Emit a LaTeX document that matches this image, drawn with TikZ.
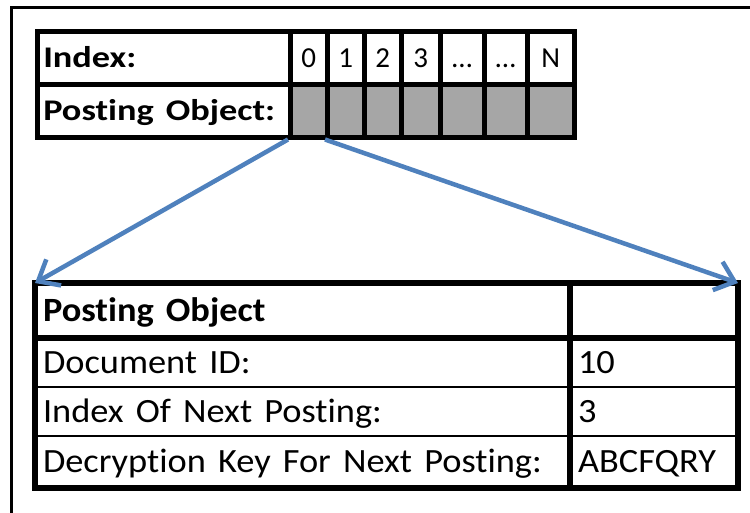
\documentclass[tikz,border=0pt]{standalone}
\usepackage{fontspec}
\setmainfont{Carlito}[Ligatures=NoCommon]
\usetikzlibrary{arrows.meta}
\definecolor{linkblue}{RGB}{79,129,189}
\definecolor{slotgray}{RGB}{166,166,166}
% labels in this layout are set slightly wide
\newcommand{\widelabel}[1]{\scalebox{1.21}[1]{#1}}
\newcommand{\widetext}[1]{\scalebox{1.07}[1]{#1}}

\begin{document}
\begin{tikzpicture}[x=1pt,y=-1pt,
  % top array: label column, index cells and slot cells
  topcell/.style={draw, line width=4.5pt, minimum height=53pt, inner sep=0pt,
    anchor=north west, text height=19pt, text depth=0pt,
    font=\fontsize{29}{29}\selectfont},
  toplabel/.style={topcell, align=left, text width=241pt, inner xsep=6pt,
    font=\bfseries\fontsize{30}{30}\selectfont},
  slot/.style={topcell, fill=slotgray},
  % posting object record
  reccell/.style={draw, line width=2pt, inner ysep=0pt, inner xsep=7pt,
    anchor=north west, align=left, text height=22pt, text depth=0pt,
    font=\fontsize{34}{34}\selectfont},
  recleft/.style={reccell, text width=521pt},
  recright/.style={reccell, text width=152pt},
  heavy/.style={line width=5.5pt},
  linkarrow/.style={draw=linkblue, line width=4.5pt,
    -{Straight Barb[length=18pt,width=30pt,line width=4.5pt]}}
]
\useasboundingbox (0,0) rectangle (750,512);
\clip (0,0) rectangle (750,512);

% page frame
\draw[line width=3pt] (11,7) rectangle (790,560);

% index row
\node[toplabel, minimum width=253pt] (lblidx) at (35,29) {\widelabel{Index:}};
\node[topcell, minimum width=37pt] (i0) at (288,29) {0};
\node[topcell, minimum width=37pt] (i1) at (325,29) {1};
\node[topcell, minimum width=37pt] (i2) at (362,29) {2};
\node[topcell, minimum width=39pt] (i3) at (399,29) {3};
\node[topcell, minimum width=44pt] (i4) at (438,29) {\dots};
\node[topcell, minimum width=43pt] (i5) at (482,29) {\dots};
\node[topcell, minimum width=47pt] (i6) at (525,29) {N};

% posting object slots
\node[toplabel, minimum width=253pt] (lblpo) at (35,82) {\widelabel{Posting Object:}};
\node[slot, minimum width=37pt] (s0) at (288,82) {};
\node[slot, minimum width=37pt] (s1) at (325,82) {};
\node[slot, minimum width=37pt] (s2) at (362,82) {};
\node[slot, minimum width=39pt] (s3) at (399,82) {};
\node[slot, minimum width=44pt] (s4) at (438,82) {};
\node[slot, minimum width=43pt] (s5) at (482,82) {};
\node[slot, minimum width=47pt] (s6) at (525,82) {};

% record of one posting object
\node[recleft, minimum height=53pt, font=\bfseries\fontsize{34}{34}\selectfont] (hdr) at (35,283) {\widetext{Posting Object}};
\node[recright, minimum height=53pt] (hdrval) at (570,283) {};
\node[recleft, minimum height=50pt] (docid) at (35,336) {\widetext{Document ID:}};
\node[recright, minimum height=50pt] (docidval) at (570,336) {\widetext{10}};
\node[recleft, minimum height=49pt] (nxt) at (35,386) {\widetext{Index Of Next Posting:}};
\node[recright, minimum height=49pt] (nxtval) at (570,386) {\widetext{3}};
\node[recleft, minimum height=51pt] (key) at (35,435) {\widetext{Decryption Key For Next Posting:}};
\node[recright, minimum height=51pt] (keyval) at (570,435) {\widetext{ABCFQRY}};

% heavy outline, header rule and column rule
\draw[heavy] (hdr.north west) rectangle (keyval.south east);
\draw[heavy] (hdr.south west) -- (hdrval.south east);
\draw[heavy] (hdrval.north west) -- (keyval.south west);

% links from the slots to the record
\draw[linkarrow] (s0.south west) -- (hdr.north west);
\draw[linkarrow] (s1.south west) -- (hdrval.north east);
\end{tikzpicture}
\end{document}
